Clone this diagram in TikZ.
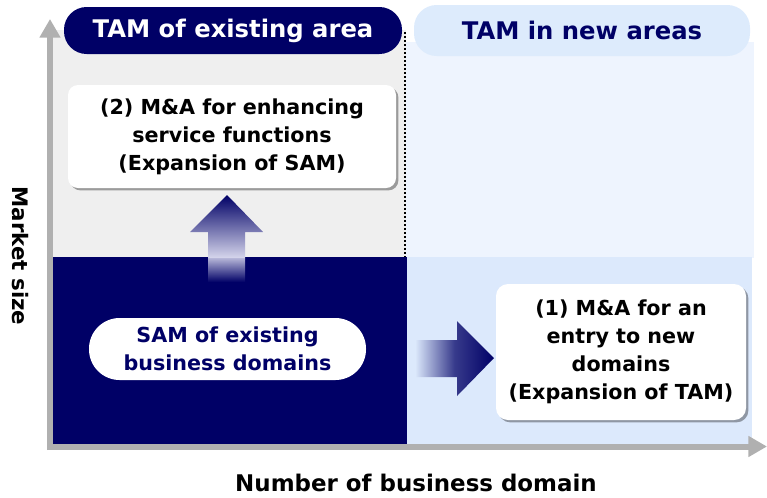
\documentclass[tikz,border=0pt]{standalone}
\usepackage{fontspec}
\setmainfont{DejaVu Sans}
\usetikzlibrary{shadows,arrows.meta}
\definecolor{navy}{RGB}{0,0,102}
\definecolor{grayreg}{RGB}{239,239,239}
\definecolor{topblue}{RGB}{238,244,254}
\definecolor{botblue}{RGB}{220,233,252}
\definecolor{pillblue}{RGB}{221,235,252}
\definecolor{axisgray}{RGB}{176,176,176}
\definecolor{shaftlight}{RGB}{214,214,236}
\tikzset{
  titlepill/.style={rounded corners=17pt, inner sep=0pt, font=\fontsize{18.2}{21}\selectfont\bfseries},
  whitebox/.style={fill=white, inner sep=0pt, align=center, font=\fontsize{15.5}{21}\selectfont\bfseries,
    drop shadow={shadow xshift=1.8pt, shadow yshift=-1.8pt, opacity=0.35, fill=black}},
  axisline/.style={draw=axisgray, line width=4.5pt, -{Triangle[width=15pt,length=14pt]}},
  axislabel/.style={font=\fontsize{17.2}{20}\selectfont\bfseries, inner sep=0pt},
}
\begin{document}
\begin{tikzpicture}[x=0.75pt,y=-0.75pt]
\useasboundingbox (0,0) rectangle (767,497);
% regions
\fill[grayreg] (53,30) rectangle (406,258);
\fill[topblue] (406,42) rectangle (754,258);
\fill[navy] (53,257) rectangle (407,444);
\fill[botblue] (407,257) rectangle (752,444);
\draw[line width=1.5pt, dash pattern=on 1.5pt off 1.5pt] (405,32) -- (405,257);
% axes
\coordinate (ybot) at (50,450);
\coordinate (ytop) at (50,19);
\coordinate (xleft) at (47,446.5);
\coordinate (xright) at (767,446.5);
\draw[axisline] (ybot) -- (ytop);
\draw[axisline] (xleft) -- (xright);
% title pills
\node[titlepill, fill=navy, text=white, minimum width=253.5pt, minimum height=35.25pt] (tamold) at (233,30.5) {TAM of existing area};
\node[titlepill, fill=pillblue, text=navy, minimum width=252pt, minimum height=38.25pt] (tamnew) at (582,30.5) {TAM in new areas};
% boxes
\node[whitebox, rounded corners=7.5pt, minimum width=246pt, minimum height=77.25pt] (ma2) at (232,136.5)
  {(2) M\&A for enhancing\\service functions\\(Expansion of SAM)};
\node[whitebox, rounded corners=9pt, minimum width=187.5pt, minimum height=102pt] (ma1) at (621,352)
  {(1) M\&A for an\\entry to new\\domains\\(Expansion of TAM)};
\node[fill=white, rounded corners=23pt, inner sep=0pt, minimum width=207.75pt, minimum height=46.5pt,
  align=center, text=navy, font=\fontsize{15.5}{21}\selectfont\bfseries] (sam) at (227.5,349)
  {SAM of existing\\business domains};
% up arrow
\shade[top color=navy, bottom color=shaftlight] (227,195) -- (263,232) -- (245,232) -- (245,258) -- (208,258) -- (208,232) -- (190,232) -- cycle;
\shade[top color=shaftlight!85!navy, bottom color=navy] (208,258) rectangle (245,282);
% right arrow
\shade[left color=botblue, right color=navy, middle color=navy!75!botblue] (415,340) -- (457,340) -- (457,321) -- (494,358) -- (457,396) -- (457,377) -- (415,377) -- cycle;
% axis labels
\node[axislabel, rotate=-90, font=\fontsize{16}{18}\selectfont\bfseries] (ylab) at (20,256) {Market size};
\node[axislabel] (xlab) at (416,483) {Number of business domain};
\end{tikzpicture}
\end{document}
